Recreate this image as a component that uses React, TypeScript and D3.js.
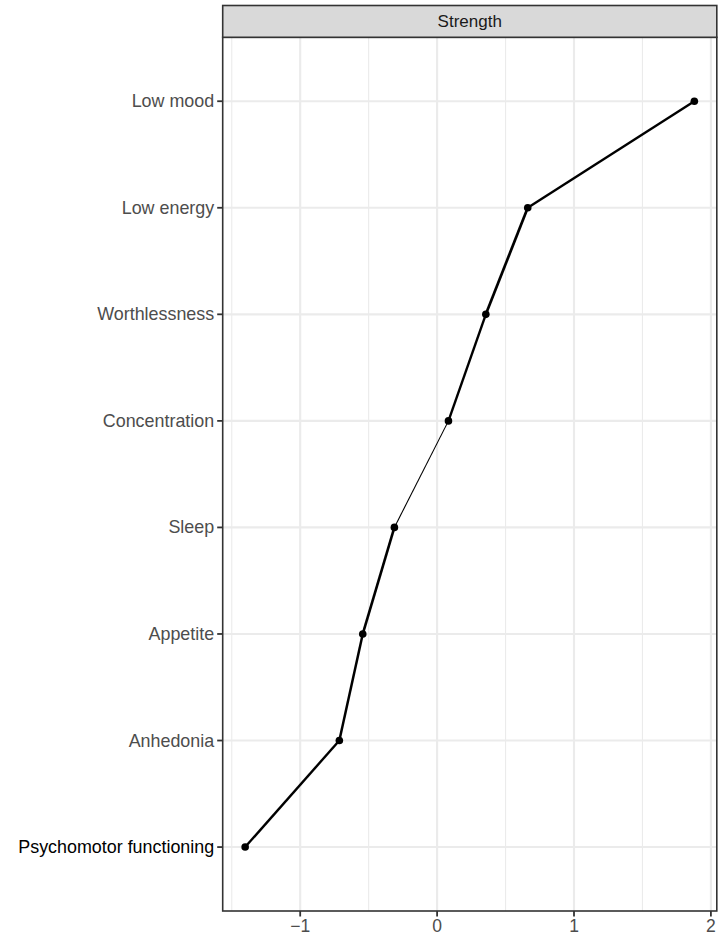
import React from "react";
import * as d3 from "d3";

const categories = [
  "Psychomotor functioning",
  "Anhedonia",
  "Appetite",
  "Sleep",
  "Concentration",
  "Worthlessness",
  "Low energy",
  "Low mood",
];
const strength = [-1.402, -0.714, -0.543, -0.312, 0.083, 0.356, 0.662, 1.879];
const xTicks = [-1, 0, 1, 2];
const xMinorTicks = [-1.5, -0.5, 0.5, 1.5];
const facetLabel = "Strength";
const highlighted = "Psychomotor functioning";

// stroke widths of segments between consecutive points (style)
const segWidths = [2.4, 2.5, 2.6, 1.1, 2.4, 2.7, 2.4];

const W = 719;
const H = 939;
const panel = { left: 222.7, right: 716.8, top: 37.3, bottom: 911 };
const FONT = "'Liberation Sans', Arial, sans-serif";

export default function App() {
  const ext = d3.extent(strength) as [number, number];
  const span = ext[1] - ext[0];
  const x = d3
    .scaleLinear()
    .domain([ext[0] - 0.05 * span, ext[1] + 0.05 * span])
    .range([panel.left, panel.right]);
  const n = categories.length;
  const yIdx = d3
    .scaleLinear()
    .domain([1 - 0.6, n + 0.6])
    .range([panel.bottom, panel.top]);
  const y = (c: string) => yIdx(categories.indexOf(c) + 1);

  const pts = categories.map((c, i) => ({ c, v: strength[i] }));
  const segs = d3.pairs(pts);
  const lineGen = d3
    .line<{ c: string; v: number }>()
    .x((d) => x(d.v))
    .y((d) => y(d.c));

  return (
    <svg
      width={W}
      height={H}
      style={{ position: "absolute", left: 0, top: 0, background: "#fff" }}
      fontFamily={FONT}
    >
      <rect x={0} y={0} width={W} height={H} fill="#fff" />
      {xMinorTicks.map((t) => (
        <line key={"mn" + t} x1={x(t)} x2={x(t)} y1={panel.top} y2={panel.bottom} stroke="#EBEBEB" strokeWidth={1.1} />
      ))}
      {xTicks.map((t) => (
        <line key={"mj" + t} x1={x(t)} x2={x(t)} y1={panel.top} y2={panel.bottom} stroke="#EBEBEB" strokeWidth={2.1} />
      ))}
      {categories.map((c) => (
        <line key={"hg" + c} x1={panel.left} x2={panel.right} y1={y(c)} y2={y(c)} stroke="#EBEBEB" strokeWidth={2.1} />
      ))}
      {segs.map(([a, b], i) => (
        <path
          key={"seg" + i}
          d={lineGen([a, b]) || ""}
          fill="none"
          stroke="#000"
          strokeWidth={segWidths[i]}
          strokeLinecap="butt"
        />
      ))}
      {pts.map((p) => (
        <circle key={"pt" + p.c} cx={x(p.v)} cy={y(p.c)} r={3.8} fill="#000" />
      ))}
      <rect
        x={panel.left}
        y={panel.top}
        width={panel.right - panel.left}
        height={panel.bottom - panel.top}
        fill="none"
        stroke="#333333"
        strokeWidth={1.6}
      />
      <rect
        x={panel.left}
        y={5.5}
        width={panel.right - panel.left}
        height={panel.top - 5.5}
        fill="#D9D9D9"
        stroke="#333333"
        strokeWidth={1.6}
      />
      <text
        x={(panel.left + panel.right) / 2}
        y={21.5}
        textAnchor="middle"
        dominantBaseline="central"
        fontSize={17}
        fill="#1A1A1A"
      >
        {facetLabel}
      </text>
      {categories.map((c) => (
        <g key={"yl" + c}>
          <line x1={panel.left - 5.5} x2={panel.left} y1={y(c)} y2={y(c)} stroke="#333333" strokeWidth={1.8} />
          <text
            x={panel.left - 8.5}
            y={y(c)}
            textAnchor="end"
            dominantBaseline="central"
            fontSize={17.9}
            fill={c === highlighted ? "#000000" : "#4D4D4D"}
          >
            {c}
          </text>
        </g>
      ))}
      {xTicks.map((t) => (
        <g key={"xl" + t}>
          <line x1={x(t)} x2={x(t)} y1={panel.bottom} y2={panel.bottom + 5.5} stroke="#333333" strokeWidth={1.8} />
          <text
            x={x(t)}
            y={panel.bottom + 14.5}
            textAnchor="middle"
            dominantBaseline="central"
            fontSize={17.5}
            fill="#4D4D4D"
          >
            {t < 0 ? "\u2212" + Math.abs(t) : String(t)}
          </text>
        </g>
      ))}
    </svg>
  );
}
